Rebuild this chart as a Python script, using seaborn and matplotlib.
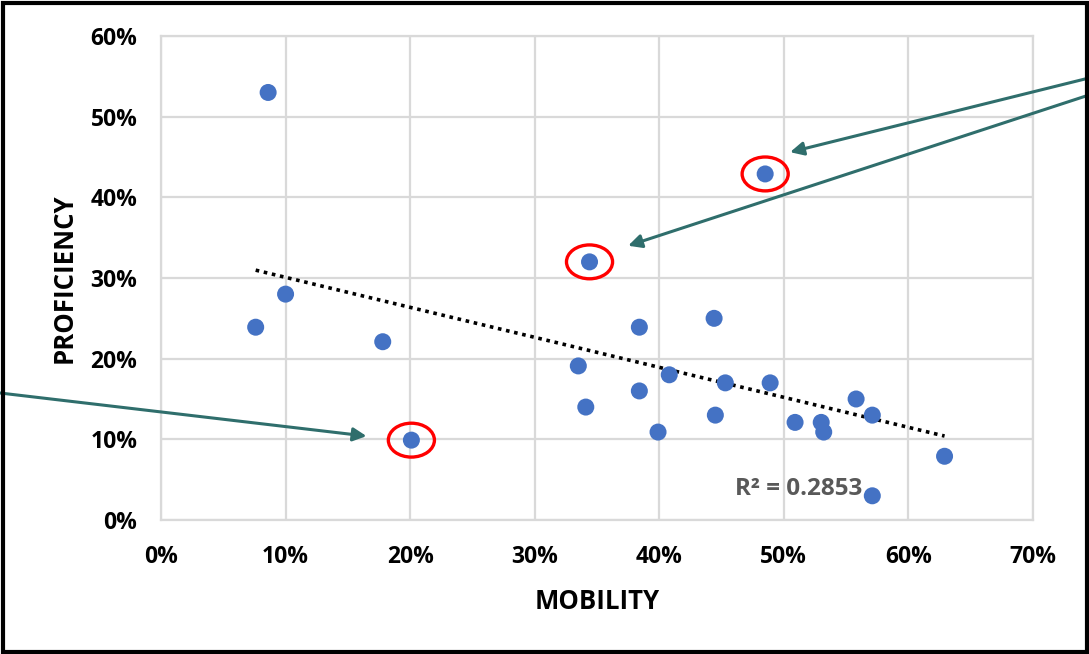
import numpy as np
import pandas as pd
import matplotlib
matplotlib.use("Agg")
import matplotlib.pyplot as plt
import seaborn as sns
from matplotlib.patches import Ellipse, Rectangle
from matplotlib.ticker import PercentFormatter

# ---- data ----
mobility = [0.086, 0.076, 0.100, 0.178, 0.201, 0.344, 0.335, 0.341, 0.384, 0.384,
            0.399, 0.408, 0.444, 0.445, 0.453, 0.485, 0.489, 0.509, 0.530, 0.532,
            0.558, 0.571, 0.571, 0.629]
proficiency = [0.53, 0.239, 0.28, 0.221, 0.099, 0.32, 0.191, 0.14, 0.239, 0.16,
               0.109, 0.18, 0.25, 0.13, 0.17, 0.429, 0.17, 0.121, 0.121, 0.109,
               0.15, 0.13, 0.03, 0.079]
highlighted = [15, 5, 4]  # indices of the circled points
x_ticks = [0, 0.1, 0.2, 0.3, 0.4, 0.5, 0.6, 0.7]
y_ticks = [0, 0.1, 0.2, 0.3, 0.4, 0.5, 0.6]
r2_label = "R² = 0.2853"
x_label = "MOBILITY"
y_label = "PROFICIENCY"

df = pd.DataFrame({"mobility": mobility, "proficiency": proficiency})

sns.set_theme(style="white")
plt.rcParams["font.family"] = ["Open Sans", "DejaVu Sans"]

W, H = 1089, 654
fig = plt.figure(figsize=(W / 100, H / 100), dpi=100)
ax = fig.add_axes([161 / W, 1 - 520 / H, (1033 - 161) / W, (520 - 36) / H])

grid_c = "#D9D9D9"
teal = "#2F6E6C"

sns.regplot(data=df, x="mobility", y="proficiency", ax=ax, scatter=False, ci=None,
            truncate=True,
            line_kws=dict(color="black", lw=2.6, linestyle=(0, (1, 1.3)), zorder=2))
sns.scatterplot(data=df, x="mobility", y="proficiency", ax=ax, color="#4472C4",
                s=150, edgecolor="none", zorder=3)

ax.set_xlim(0, 0.7)
ax.set_ylim(0, 0.6)
ax.set_xticks(x_ticks)
ax.set_yticks(y_ticks)
ax.xaxis.set_major_formatter(PercentFormatter(1.0, decimals=0))
ax.yaxis.set_major_formatter(PercentFormatter(1.0, decimals=0))
ax.grid(True, color=grid_c, lw=1.6)
ax.set_axisbelow(True)
for s in ax.spines.values():
    s.set_color(grid_c)
    s.set_linewidth(1.6)
ax.tick_params(axis="x", length=0, labelsize=16.5, pad=18)
ax.tick_params(axis="y", length=0, labelsize=16.5, pad=17)
for lab in ax.get_xticklabels() + ax.get_yticklabels():
    lab.set_fontweight("bold")
    lab.set_color("black")
ax.set_xlabel(x_label, fontsize=18.5, fontweight="bold", color="black", labelpad=14)
ax.set_ylabel(y_label, fontsize=18.5, fontweight="bold", color="black", labelpad=9.5)

ax.text(0.563, 0.038, r2_label, ha="right", va="center", fontsize=17.5,
        fontweight="bold", color="#595959", zorder=4)

# red circles around highlighted points
for i in highlighted:
    ax.add_patch(Ellipse((mobility[i], proficiency[i]), 0.037, 0.042, fill=False,
                         edgecolor="#FF0000", lw=2.4, zorder=4))

# arrows from outside the plot
arrows = [((0.505, 0.456), (1.0, 1 - 78 / H)),
          ((0.375, 0.340), (1.0, 1 - 95 / H)),
          ((0.165, 0.104), (0.0, 1 - 393 / H))]
for tip, start in arrows:
    ax.annotate("", xy=tip, xycoords="data", xytext=start, textcoords="figure fraction",
                arrowprops=dict(arrowstyle="-|>", color=teal, lw=2.2,
                                mutation_scale=20, shrinkA=0, shrinkB=0),
                annotation_clip=False, zorder=5)

# black frame around the figure
fig.patches.append(Rectangle((2.5 / W, 2.5 / H), 1 - 5 / W, 1 - 5 / H, transform=fig.transFigure,
                             fill=False, edgecolor="black", lw=3, zorder=10))

fig.savefig("out.png", dpi=100)
